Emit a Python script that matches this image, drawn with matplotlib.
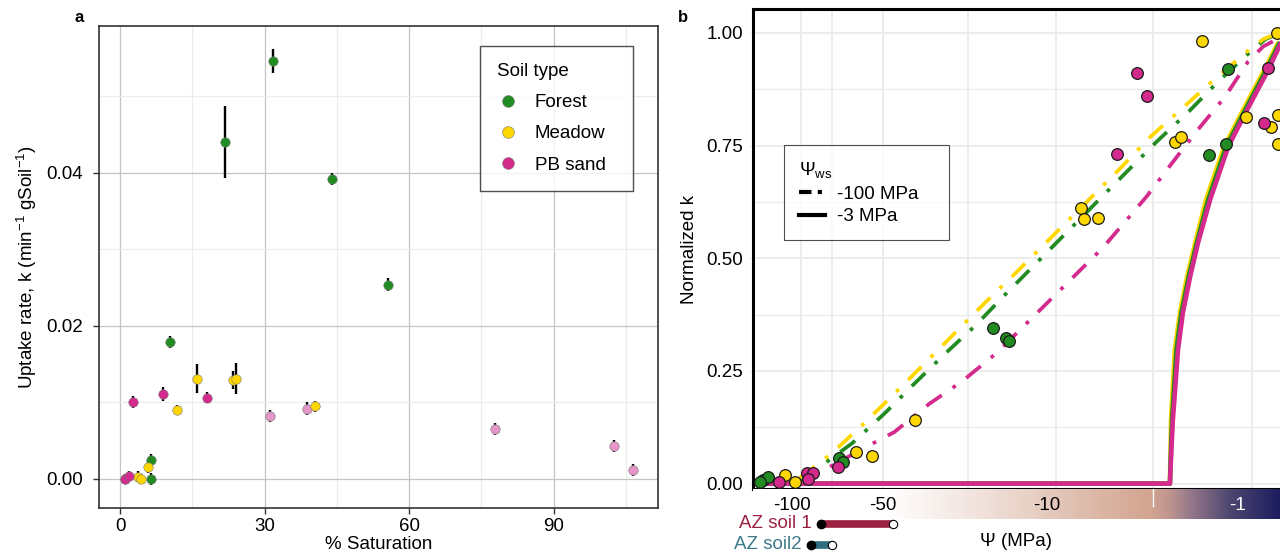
import numpy as np
import matplotlib
matplotlib.use("Agg")
import matplotlib.pyplot as plt
from matplotlib.lines import Line2D
from matplotlib.colors import LinearSegmentedColormap, Normalize
from matplotlib.transforms import blended_transform_factory

plt.rcParams["font.family"] = ["Liberation Sans", "DejaVu Sans"]
plt.rcParams["mathtext.fontset"] = "custom"
plt.rcParams["mathtext.rm"] = "Liberation Sans"
plt.rcParams["mathtext.it"] = "Liberation Sans:italic"

GREEN = "#228B22"
GOLD = "#FFD700"
PINK = "#D42A8D"
LIGHTPINK = "#E695C8"

# ---- panel a: uptake rate vs % saturation
forest_x = [31.8, 21.8, 44.0, 55.6, 10.4, 6.4, 6.4]
forest_y = [0.0546, 0.0440, 0.0392, 0.0254, 0.0179, 0.0025, 0.0]
forest_err = [0.0016, 0.0047, 0.0008, 0.0008, 0.0008, 0.0008, 0.0008]

meadow_x = [16.0, 23.5, 24.1, 11.8, 40.5, 5.8, 3.8, 4.4]
meadow_y = [0.0131, 0.0129, 0.0131, 0.0090, 0.0095, 0.0016, 0.0003, 0.0]
meadow_err = [0.0019, 0.0012, 0.0020, 0.0007, 0.0007, 0.0008, 0.0007, 0.0007]

pb_x = [2.7, 8.9, 18.1, 0.9, 1.0, 1.9]
pb_y = [0.0101, 0.0111, 0.0106, 0.0, 0.0, 0.0004]
pb_err = [0.0008, 0.0009, 0.0007, 0.0007, 0.0007, 0.0007]

pb_sat_x = [31.1, 38.9, 77.8, 102.6, 106.5]
pb_sat_y = [0.0082, 0.0092, 0.0065, 0.0043, 0.0012]
pb_sat_err = [0.0008, 0.0008, 0.0008, 0.0008, 0.0008]

# ---- panel b: normalized k vs water potential (MPa)
fit100_gold_psi = [-135, -100, -74.3, -58.6, -45.3, -33.8, -25.2, -18.6, -13.7, -4.85, -3.66, -2.47, -1.49, -0.853, -0.657, -0.514]
fit100_gold_k = [0, 0, 0.066, 0.13, 0.197, 0.263, 0.33, 0.399, 0.466, 0.701, 0.768, 0.832, 0.894, 0.959, 0.986, 1.0]
fit100_green_psi = [-135, -96.3, -63.2, -49.0, -36.6, -27.0, -20.1, -15.0, -4.58, -3.41, -2.20, -1.37, -0.839, -0.635, -0.498]
fit100_green_k = [0, 0, 0.09, 0.157, 0.223, 0.29, 0.352, 0.421, 0.692, 0.759, 0.826, 0.892, 0.954, 0.986, 1.0]
fit100_pink_psi = [-135, -100, -79.6, -53.1, -44.9, -31.8, -22.9, -16.4, -5.80, -3.77, -2.95, -1.93, -1.22, -0.839, -0.657, -0.498]
fit100_pink_k = [0, 0, 0.028, 0.092, 0.114, 0.177, 0.228, 0.29, 0.523, 0.637, 0.708, 0.783, 0.859, 0.937, 0.97, 0.99]

fit3_k = [0, 0, 0.074, 0.141, 0.297, 0.379, 0.459, 0.534, 0.63, 0.748, 0.83, 0.914, 0.975]
fit3_gold_psi = [-135, -3.0, -2.97, -2.95, -2.77, -2.55, -2.27, -1.99, -1.67, -1.24, -0.910, -0.657, -0.522]
fit3_green_psi = [-135, -3.0, -2.95, -2.90, -2.70, -2.49, -2.21, -1.94, -1.61, -1.20, -0.880, -0.636, -0.510]
fit3_pink_psi = [-135, -3.0, -2.93, -2.86, -2.63, -2.43, -2.16, -1.90, -1.56, -1.16, -0.853, -0.615, -0.498]

obs_green_psi = [-1.16, -1.20, -1.59, -17.0, -15.0, -14.6, -70.0, -67.8, -125, -120, -128]
obs_green_k = [0.919, 0.754, 0.728, 0.346, 0.323, 0.317, 0.057, 0.048, 0.008, 0.014, 0.003]
obs_gold_psi = [-1.78, -0.522, -0.867, -0.577, -0.514, -0.514, -2.77, -2.51, -7.19, -6.98, -6.08, -36.6, -61.4, -54.4, -105.5, -97.8]
obs_gold_k = [0.981, 1.0, 0.814, 0.792, 0.817, 0.754, 0.759, 0.77, 0.612, 0.586, 0.59, 0.141, 0.07, 0.061, 0.019, 0.003]
obs_pink_psi = [-4.15, -3.77, -0.605, -0.647, -5.05, -70.5, -89.2, -85.3, -88.5, -111]
obs_pink_k = [0.91, 0.861, 0.923, 0.801, 0.732, 0.037, 0.023, 0.023, 0.01, 0.003]

az_labels = ["AZ soil 1", "AZ soil2"]
az_psi_low = [-80.2, -86.5]
az_psi_high = [-45.3, -73.8]
az_colors = ["#9B2242", "#2F6E7E"]
az_text_colors = ["#9B2242", "#3C7A89"]

psi_tick_values = [-100, -50, -10, -1]
psi_tick_labels = ["-100", "-50", "-10", "-1"]
psi_grid = [-93.3, -73.8, -50, -21.7, -9.18, -3.55, -0.787]

# nonlinear psi axis (piecewise log spacing as in the original figure)
L_ANCH = np.array([2.176, 2.0, 1.699, 0.477, -0.398])
P_ANCH = np.array([739.0, 792.0, 883.0, 1170.0, 1294.0])


def fwd(v):
    v = np.asarray(v, dtype=float)
    lv = -np.log10(np.clip(-v, 1e-4, None))
    return np.interp(lv, -L_ANCH, P_ANCH)


def inv(p):
    p = np.asarray(p, dtype=float)
    lv = np.interp(p, P_ANCH, -L_ANCH)
    return -(10 ** (-lv))


fig = plt.figure(figsize=(12.8, 5.54), dpi=100)
W, H = 1280.0, 554.0


def rect(x0, y0, x1, y1):
    return [x0 / W, 1 - y1 / H, (x1 - x0) / W, (y1 - y0) / H]


FS = 13.5

# ================= panel a =================
axa = fig.add_axes(rect(99, 26, 658, 508))
axa.set_xlim(-4.4, 111.7)
axa.set_ylim(-0.0038, 0.0592)
axa.set_xticks([0, 30, 60, 90])
axa.set_xticks([15, 45, 75, 105], minor=True)
axa.set_yticks([0.0, 0.02, 0.04])
axa.set_yticklabels(["0.00", "0.02", "0.04"])
axa.set_yticks([0.01, 0.03, 0.05], minor=True)
axa.grid(which="major", color="#c4c4c4", lw=0.9)
axa.grid(which="minor", color="#ececec", lw=0.9)
axa.set_axisbelow(True)
for s in axa.spines.values():
    s.set_color("#333333")
    s.set_linewidth(1.2)
axa.tick_params(which="major", length=4, width=1, color="#333333", labelsize=FS, pad=3)
axa.tick_params(axis="y", which="major", pad=7.5)
axa.tick_params(which="minor", length=0)

ms_a = 6.8
eb = dict(fmt="o", ecolor="black", elinewidth=1.7, capsize=0, ms=ms_a,
          mec="#777777", mew=0.4, zorder=3)
axa.errorbar(pb_sat_x, pb_sat_y, yerr=pb_sat_err, mfc=LIGHTPINK, **eb)
axa.errorbar(forest_x, forest_y, yerr=forest_err, mfc=GREEN, **eb)
axa.errorbar(meadow_x, meadow_y, yerr=meadow_err, mfc=GOLD, **eb)
axa.errorbar(pb_x, pb_y, yerr=pb_err, mfc=PINK, **eb)

axa.set_xlabel("% Saturation", fontsize=FS, labelpad=1)
axa.set_ylabel("Uptake rate, k (min$^{-1}$ gSoil$^{-1}$)", fontsize=FS, labelpad=5)

hand_a = [Line2D([], [], ls="none", marker="o", ms=8.5, mfc=c, mec="#777777", mew=0.4)
          for c in (GREEN, GOLD, PINK)]
lga = axa.legend(hand_a, ["Forest", "Meadow", "PB sand  "], title="Soil type  ",
                 loc="upper left", bbox_to_anchor=(0.682, 0.958), fontsize=FS,
                 title_fontsize=FS, frameon=True, fancybox=False, edgecolor="#222222",
                 handletextpad=0.8, labelspacing=0.75, borderpad=0.9, handlelength=1.2,
                 borderaxespad=0)
lga._legend_box.align = "left"
lga.get_frame().set_linewidth(1.0)

fig.text(79 / W, 1 - 18 / H, "a", fontsize=12, fontweight="bold", va="center", ha="center")

# ================= panel b =================
axb = fig.add_axes(rect(753, 9, 1280, 489))
axb.set_xscale("function", functions=(fwd, inv))
axb.set_xlim(-135, -0.501)
axb.set_ylim(-0.012, 1.053)
axb.set_yticks([0, 0.25, 0.5, 0.75, 1.0])
axb.set_yticklabels(["0.00", "0.25", "0.50", "0.75", "1.00"])
axb.set_yticks([0.125, 0.375, 0.625, 0.875], minor=True)
axb.set_xticks(psi_grid)
axb.set_xticks([], minor=True)
axb.set_xticklabels([])
axb.grid(which="major", color="#ebebeb", lw=1.3)
axb.grid(which="minor", axis="y", color="#ebebeb", lw=1.0)
axb.set_axisbelow(True)
axb.tick_params(axis="x", length=0)
axb.tick_params(axis="y", which="major", length=3, color="#ebebeb", labelsize=FS, pad=4)
axb.tick_params(axis="y", which="minor", length=0)
axb.spines["right"].set_visible(False)
for k in ("top", "left", "bottom"):
    axb.spines[k].set_linewidth(2.2)
    axb.spines[k].set_color("black")

dd = (0, (5, 3.5, 1, 3.5))
axb.plot(fit100_pink_psi, fit100_pink_k, color=PINK, lw=2.7, ls=dd, zorder=2)
axb.plot(fit100_green_psi, fit100_green_k, color=GREEN, lw=2.7, ls=dd, zorder=2)
axb.plot(fit100_gold_psi, fit100_gold_k, color=GOLD, lw=2.7, ls=dd, zorder=2)
axb.plot(fit3_gold_psi, fit3_k, color=GOLD, lw=3.3, zorder=2)
axb.plot(fit3_green_psi, fit3_k, color=GREEN, lw=3.3, zorder=2)
axb.plot(fit3_pink_psi, fit3_k, color=PINK, lw=3.3, zorder=2)

pt = dict(ls="none", marker="o", ms=8.4, mec="#1a1a1a", mew=0.9, zorder=4, clip_on=False)
axb.plot(obs_green_psi, obs_green_k, mfc=GREEN, **pt)
axb.plot(obs_gold_psi, obs_gold_k, mfc=GOLD, **pt)
axb.plot(obs_pink_psi, obs_pink_k, mfc=PINK, **pt)

axb.set_ylabel("Normalized k", fontsize=FS, labelpad=6)

hand_b = [Line2D([], [], color="black", lw=3, ls=(0, (3, 1.5, 1, 1.5))),
          Line2D([], [], color="black", lw=3)]
lgb = axb.legend(hand_b, ["-100 MPa   ", "-3 MPa"], title=r"$\Psi_{\mathrm{ws}}$",
                 loc="upper left", bbox_to_anchor=(0.059, 0.717), fontsize=FS,
                 title_fontsize=FS, frameon=True, fancybox=False, edgecolor="#222222",
                 handletextpad=0.6, labelspacing=0.3, borderpad=0.8, handlelength=1.4,
                 borderaxespad=0)
lgb._legend_box.align = "left"
lgb.get_frame().set_linewidth(0.8)

fig.text(683 / W, 1 - 18 / H, "b", fontsize=12, fontweight="bold", va="center", ha="center")

# colour strip for psi
axs = fig.add_axes(rect(753, 489, 1280, 519), sharex=axb)
axs.set_xlim(-135, -0.501)
axs.set_ylim(0, 1)
axs.axis("off")
L_col = [-0.30, 0.05, 0.335, 0.56, 0.78, 1.20, 1.70, 2.13]
C_col = ["#1d1d5e", "#4c4670", "#98798a", "#d2a590", "#dbb6a5", "#eddbd3", "#ffffff", "#ffffff"]
lo, hi = L_col[0], L_col[-1]
cmap = LinearSegmentedColormap.from_list(
    "psi", [((l - lo) / (hi - lo), c) for l, c in zip(L_col, C_col)])
edges = -np.geomspace(135, 0.501, 400)
mids = np.log10(-(edges[:-1] + edges[1:]) / 2)
axs.pcolormesh(edges, [0, 1], mids[None, :], cmap=cmap, norm=Normalize(lo, hi),
               shading="flat")
axs.plot([-3.55, -3.55], [0.45, 1.0], color="white", lw=1)
trs = blended_transform_factory(axs.transData, axs.transAxes)
for v, lab in zip(psi_tick_values, psi_tick_labels):
    axs.text(v, 0.45, lab, transform=trs, ha="center", va="center", fontsize=FS,
             color="white" if v == -1 else "black")

# measured psi ranges of AZ soils
axz = fig.add_axes(rect(753, 514, 1280, 554), sharex=axb)
axz.set_xlim(-135, -0.501)
axz.set_ylim(1.43, -0.476)
axz.axis("off")
for i, (lab, a, b, c, tc) in enumerate(zip(az_labels, az_psi_low, az_psi_high, az_colors, az_text_colors)):
    axz.plot([a, b], [i, i], color=c, lw=5.5, solid_capstyle="butt", zorder=1)
    axz.plot([a], [i], "o", ms=6, color="black", zorder=2)
    axz.plot([b], [i], "o", ms=6, mfc="white", mec="black", mew=0.8, zorder=2)
    axz.annotate(lab, (a, i), xytext=(-7, 0), textcoords="offset points",
                 ha="right", va="center", fontsize=FS, color=tc)

fig.text(1016 / W, 1 - 541 / H, "Ψ (MPa)", fontsize=FS, ha="center", va="center")

fig.savefig("out.png", dpi=100)
